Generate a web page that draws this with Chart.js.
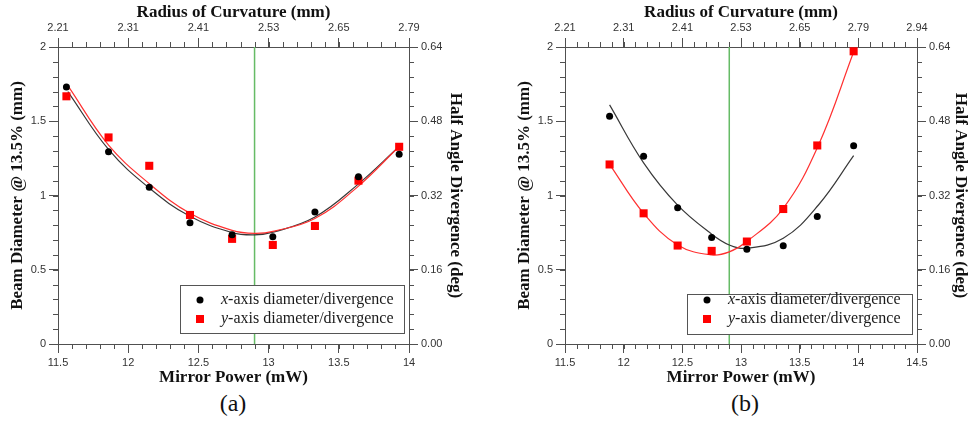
<!DOCTYPE html>
<html>
<head>
<meta charset="utf-8">
<script src="https://cdn.jsdelivr.net/npm/chart.js@4.4.1/dist/chart.umd.min.js"></script>
<style>
    body { margin: 0; background: #fff; width: 969px; height: 423px; overflow: hidden; position: relative; }
    .panel { position: absolute; top: 0; height: 390px; }
    #panelA { left: 0; width: 464px; }
    #panelB { left: 507px; width: 462px; }
    .caption { position: absolute; top: 390px; width: 60px; line-height: 26px; text-align: center;
               font: 24px 'Liberation Serif', serif; color: #111; }
</style>
</head>
<body>
<div class="panel" id="panelA"><canvas id="chartA"></canvas></div>
<div class="panel" id="panelB"><canvas id="chartB"></canvas></div>
<div class="caption" style="left:203px">(a)</div>
<div class="caption" style="left:715px">(b)</div>
<script>
// panel (a)
const powerA = [11.56, 11.86, 12.15, 12.44, 12.74, 13.03, 13.33, 13.64, 13.93]
const xDiamA = [1.73, 1.294, 1.055, 0.817, 0.735, 0.723, 0.889, 1.127, 1.277]
const yDiamA = [1.668, 1.391, 1.20, 0.869, 0.708, 0.667, 0.795, 1.10, 1.328]
const fitPowerA = [11.57, 11.86, 12.15, 12.44, 12.74, 12.9, 13.04, 13.33, 13.63, 13.93]
const fitXA = [1.70, 1.31, 1.05, 0.86, 0.75, 0.735, 0.755, 0.855, 1.07, 1.33]
const fitYA = [1.74, 1.34, 1.08, 0.88, 0.765, 0.745, 0.76, 0.845, 1.055, 1.33]
const radiusTicksA = ['2.21', '2.31', '2.41', '2.53', '2.65', '2.79']

// panel (b)
const powerB = [11.88, 12.17, 12.46, 12.75, 13.05, 13.36, 13.65, 13.96]
const xDiamB = [1.534, 1.265, 0.918, 0.717, 0.638, 0.661, 0.858, 1.335]
const yDiamB = [1.209, 0.88, 0.663, 0.627, 0.69, 0.909, 1.337, 1.971]
const fitPowerB = [11.88, 12.17, 12.46, 12.75, 12.9, 13.05, 13.36, 13.66, 13.96]
const fitXB = [1.61, 1.22, 0.935, 0.74, 0.667, 0.645, 0.712, 0.936, 1.268]
const fitYB = [1.21, 0.88, 0.667, 0.60, 0.62, 0.69, 0.914, 1.339, 1.966]
const radiusTicksB = ['2.21', '2.31', '2.41', '2.53', '2.65', '2.79', '2.94']

const focusPower = 12.9
const diameterMax = 2
const divergenceMax = 0.64
const legendAxes = ['x', 'y']
const legendText = '-axis diameter/divergence'

const AXIS = '#505050'
const tickFont = { family: 'Liberation Sans, Arial, sans-serif', size: 11 }
const titleFont = { family: 'Liberation Serif, Times New Roman, serif', size: 17, weight: 'bold', lineHeight: 1 }
const plainNumber = v => String(Math.round(v * 100) / 100)

// short unlabeled ticks between the labeled ones
const minorTicksPlugin = {
    id: 'minorTicks',
    afterDraw(chart, args, opts) {
        const { ctx } = chart;
        ctx.save();
        ctx.strokeStyle = AXIS;
        ctx.lineWidth = 1;
        Object.entries(opts.steps).forEach(([id, step]) => {
            const scale = chart.scales[id];
            const n = Math.round((scale.max - scale.min) / step);
            for (let i = 0; i <= n; i++) {
                const p = Math.round(scale.getPixelForValue(scale.min + i * step)) + 0.5;
                ctx.beginPath();
                if (scale.position === 'bottom') { ctx.moveTo(p, scale.top); ctx.lineTo(p, scale.top + opts.length); }
                if (scale.position === 'top') { ctx.moveTo(p, scale.bottom); ctx.lineTo(p, scale.bottom - opts.length); }
                if (scale.position === 'left') { ctx.moveTo(scale.right, p); ctx.lineTo(scale.right - opts.length, p); }
                if (scale.position === 'right') { ctx.moveTo(scale.left, p); ctx.lineTo(scale.left + opts.length, p); }
                ctx.stroke();
            }
        });
        ctx.restore();
    }
};

// framed legend with an italic axis letter
const boxLegendPlugin = {
    id: 'boxLegend',
    afterDatasetsDraw(chart, args, opts) {
        const { ctx, chartArea } = chart;
        const left = Math.round(chartArea.right - opts.right - opts.width);
        const top = Math.round(chartArea.bottom - opts.bottom - opts.height);
        ctx.save();
        ctx.fillStyle = '#fff';
        ctx.fillRect(left, top, opts.width, opts.height);
        ctx.strokeStyle = '#555';
        ctx.lineWidth = 1;
        ctx.strokeRect(left + 0.5, top + 0.5, opts.width, opts.height);
        ctx.textBaseline = 'middle';
        legendAxes.forEach((axis, i) => {
            const y = chartArea.bottom - opts.rows[i];
            const mx = left + 20;
            ctx.fillStyle = i === 0 ? '#000' : '#ff0000';
            ctx.beginPath();
            if (i === 0) ctx.arc(mx, y, 3.5, 0, Math.PI * 2);
            else ctx.rect(mx - 4, y - 4, 8, 8);
            ctx.fill();
            let tx = left + 41;
            ctx.fillStyle = '#1a1a1a';
            ctx.font = 'italic 16px "Liberation Serif", serif';
            ctx.fillText(axis, tx, y);
            tx += ctx.measureText(axis).width;
            ctx.font = '16px "Liberation Serif", serif';
            ctx.fillText(legendText, tx, y);
        });
        ctx.restore();
    }
};

function axisGrid() {
    return { drawOnChartArea: false, drawTicks: true, tickLength: 9, color: AXIS, tickColor: AXIS }
}

function makeChart(id, p) {
    const ctx = document.querySelector('#' + id).getContext('2d');
    const pts = (xs, ys) => xs.map((x, i) => ({ x: x, y: ys[i] }));
    return new Chart(ctx, {
        type: 'scatter',
        data: {
            datasets: [
                { data: pts(p.power, p.xDiam), pointStyle: 'circle', pointRadius: 3.5, backgroundColor: '#000', borderWidth: 0 },
                { data: pts(p.power, p.yDiam), pointStyle: 'rect', pointRadius: 5.7, backgroundColor: '#ff0000', borderWidth: 0 },
                { data: pts(p.fitPower, p.fitY), showLine: true, pointRadius: 0, borderColor: '#ff3030', borderWidth: 1.2, tension: 0.4 },
                { data: pts(p.fitPower, p.fitX), showLine: true, pointRadius: 0, borderColor: '#383838', borderWidth: 1.2, tension: 0.4 },
                { data: [{ x: focusPower, y: 0 }, { x: focusPower, y: diameterMax }], showLine: true, pointRadius: 0, borderColor: '#66bb66', borderWidth: 1.5 }
            ]
        },
        options: {
            responsive: true,
            maintainAspectRatio: false,
            animation: false,
            layout: { padding: 0 },
            plugins: {
                legend: { display: false },
                tooltip: { enabled: false },
                minorTicks: { length: 5, steps: { x: 0.1, x2: 0.1, y: 0.1, y2: 0.032 } },
                boxLegend: p.legend
            },
            scales: {
                x: {
                    type: 'linear', position: 'bottom', min: 11.5, max: p.xMax,
                    ticks: { stepSize: 0.5, color: '#333', font: tickFont, padding: 3, maxRotation: 0, callback: plainNumber },
                    grid: axisGrid(), border: { display: true, color: AXIS },
                    title: { display: true, text: 'Mirror Power (mW)', color: '#111', font: titleFont, padding: { top: 0, bottom: 3.5 } },
                    afterFit: s => { s.height = 46 }
                },
                x2: {
                    type: 'linear', position: 'top', min: 11.5, max: p.xMax,
                    ticks: { stepSize: 0.5, color: '#333', font: tickFont, padding: 3, maxRotation: 0,
                        callback: (v, i) => p.radius[i] },
                    grid: axisGrid(), border: { display: true, color: AXIS },
                    title: { display: true, text: 'Radius of Curvature (mm)', color: '#111', font: titleFont, padding: { top: 4.5, bottom: 0 } },
                    afterFit: s => { s.height = 47 }
                },
                y: {
                    type: 'linear', position: 'left', min: 0, max: diameterMax,
                    ticks: { stepSize: 0.5, color: '#333', font: tickFont, padding: 3, callback: plainNumber },
                    grid: axisGrid(), border: { display: true, color: AXIS },
                    title: { display: true, text: 'Beam Diameter @ 13.5% (mm)', color: '#111', font: titleFont, padding: { top: 9.5, bottom: 0 } },
                    afterFit: s => { s.width = 58 }
                },
                y2: {
                    type: 'linear', position: 'right', min: 0, max: divergenceMax,
                    ticks: { stepSize: 0.16, color: '#333', font: tickFont, padding: 3, callback: v => v.toFixed(2) },
                    grid: axisGrid(), border: { display: true, color: AXIS },
                    title: { display: true, text: 'Half Angle Divergence (deg)', color: '#111', font: titleFont, padding: { top: 0, bottom: 0 } },
                    afterFit: s => { s.width = p.rightWidth }
                }
            }
        },
        plugins: [minorTicksPlugin, boxLegendPlugin]
    });
}

makeChart('chartA', {
    power: powerA, xDiam: xDiamA, yDiam: yDiamA, fitPower: fitPowerA, fitX: fitXA, fitY: fitYA,
    xMax: 14, radius: radiusTicksA, rightWidth: 55,
    legend: { right: 5, bottom: 11, width: 224, height: 48, rows: [44, 25] }
});

makeChart('chartB', {
    power: powerB, xDiam: xDiamB, yDiam: yDiamB, fitPower: fitPowerB, fitX: fitXB, fitY: fitYB,
    xMax: 14.5, radius: radiusTicksB, rightWidth: 52,
    legend: { right: 5, bottom: 10, width: 225, height: 40, rows: [44, 25] }
});
</script>
</body>
</html>
